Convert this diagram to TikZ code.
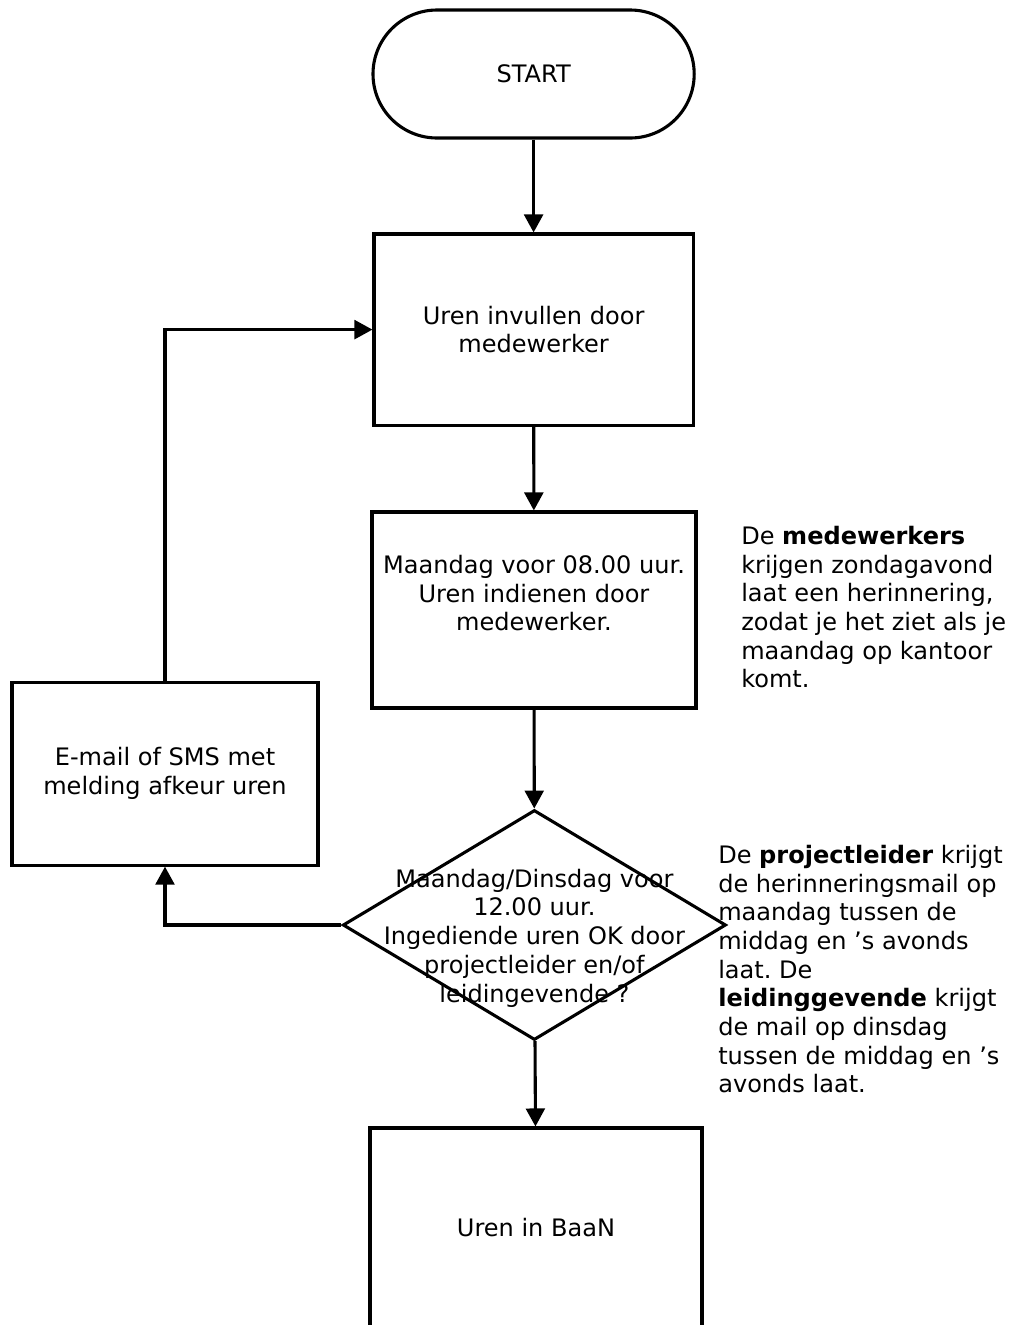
\documentclass[tikz,border=0pt]{standalone}
\usepackage{fontspec}
\setmainfont{DejaVu Sans}
\usepackage{tikz}
\usetikzlibrary{arrows.meta, positioning, shapes.geometric}
\newcommand{\flowfont}{\fontsize{17.1}{20.4}\selectfont}
\frenchspacing

\begin{document}
\begin{tikzpicture}[
    every node/.style={font=\flowfont},
    box/.style={draw, line width=2.2pt, minimum width=8cm, minimum height=4.8cm,
                align=center, inner sep=0pt},
    term/.style={draw, line width=2.2pt, rounded corners=1.6cm, minimum width=8.03cm,
                 minimum height=3.2cm, align=center},
    decision/.style={draw, line width=2.2pt, diamond, minimum width=9.58cm,
                     minimum height=5.75cm, inner sep=0pt},
    txt/.style={align=center, inner sep=0pt},
    note/.style={align=left, inner sep=0pt, anchor=north west},
    arrow/.style={-{Triangle[length=0.45cm, width=0.47cm]}, line width=2.2pt}
  ]
    \useasboundingbox (0,0) rectangle (25.275,-33.125);

    % Start
    \node[term] (start) at (13.34,-1.85) {START};

    % Uren invullen
    \node[box, minimum width=7.98cm, minimum height=4.78cm] (invullen) at (13.34,-8.24)
      {Uren invullen door\\medewerker};

    % Uren indienen
    \node[box, minimum width=8.1cm, minimum height=4.9cm] (indienen) at (13.35,-15.25) {};
    \node[txt] (indienentxt) at (13.35,-14.83)
      {Maandag voor 08.00 uur.\\Uren indienen door\\medewerker.};

    % Controle
    \node[decision] (check) at (13.36,-23.125) {};
    \node[txt] (checktxt) at (13.36,-23.45)
      {Maandag/Dinsdag voor\\12.00 uur.\\Ingediende uren OK door\\projectleider en/of\\leidingevende ?};

    % Afkeur
    \node[box, minimum width=7.65cm, minimum height=4.575cm] (afkeur) at (4.125,-19.34)
      {E-mail of SMS met\\melding afkeur uren};

    % BaaN
    \node[box, minimum width=8.3cm, minimum height=5cm] (baan) at (13.4,-30.7)
      {Uren in BaaN};

    % Notes
    \node[note] (note1) at (18.525,-13.15)
      {De \textbf{medewerkers}\\krijgen zondagavond\\laat een herinnering,\\zodat je het ziet als je\\maandag op kantoor\\komt.};
    \node[note] (note2) at (17.95,-21.12)
      {De \textbf{projectleider} krijgt\\de herinneringsmail op\\maandag tussen de\\middag en ’s avonds\\laat. De\\\textbf{leidinggevende} krijgt\\de mail op dinsdag\\tussen de middag en ’s\\avonds laat.};

    % Arrows
    \draw[arrow] (start) -- (invullen);
    \draw[arrow] (invullen) -- (indienen);
    \draw[arrow] (indienen) -- (check);
    \draw[arrow] (check) -- (baan);
    \draw[arrow] (check.west) -| (afkeur.south);
    \draw[arrow] (afkeur.north) |- (invullen.west);
  \end{tikzpicture}
\end{document}
